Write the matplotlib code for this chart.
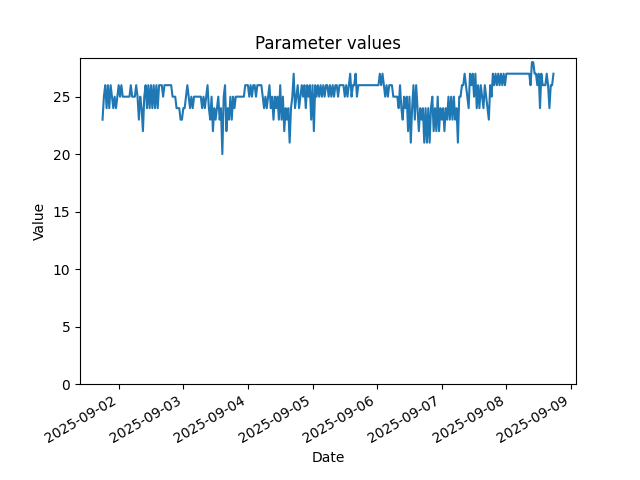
import matplotlib
matplotlib.use("Agg")
import matplotlib.pyplot as plt
import matplotlib.dates as mdates
import pandas as pd

# readings every 30 minutes, one list per day
day_0901 = [23, 25, 26, 24, 26, 24, 26, 25, 24, 25, 24, 25]  # from 18:00
day_0902 = [26, 25, 26, 25, 25, 25, 25, 25, 25, 26, 25, 25,
            25, 26, 25, 23, 25, 24, 22, 25, 26, 24, 26, 24,
            26, 24, 26, 24, 26, 24, 26, 26, 26, 25, 26, 26,
            26, 26, 26, 26, 25, 25, 25, 24, 24, 24, 23, 23]
day_0903 = [24, 24, 25, 26, 25, 24, 25, 24, 25, 25, 25, 25,
            25, 25, 24, 25, 24, 25, 26, 24, 23, 25, 22, 24,
            23, 24, 25, 23, 24, 20, 25, 26, 22, 24, 23, 25,
            23, 25, 24, 25, 25, 25, 25, 25, 25, 25, 26, 26]
day_0904 = [26, 25, 26, 25, 26, 26, 25, 26, 26, 26, 26, 25,
            24, 25, 24, 25, 26, 24, 25, 23, 25, 24, 25, 23,
            26, 23, 25, 22, 24, 23, 24, 21, 24, 25, 27, 24,
            25, 26, 24, 25, 26, 25, 26, 24, 26, 25, 26, 23]
day_0905 = [26, 22, 26, 25, 26, 25, 26, 25, 26, 25, 26, 26,
            25, 26, 25, 26, 25, 26, 26, 25, 26, 26, 26, 26,
            25, 26, 25, 26, 27, 25, 26, 26, 27, 25, 26, 26,
            26, 26, 26, 26, 26, 26, 26, 26, 26, 26, 26, 26]
day_0906 = [26, 26, 27, 26, 27, 26, 25, 26, 25, 26, 26, 26,
            25, 25, 25, 25, 24, 26, 24, 23, 25, 24, 25, 22,
            25, 21, 24, 26, 23, 26, 24, 22, 24, 23, 24, 21,
            24, 21, 24, 21, 24, 25, 22, 24, 22, 25, 22, 24]
day_0907 = [23, 24, 22, 24, 23, 25, 23, 25, 23, 25, 23, 24,
            21, 25, 25, 26, 26, 27, 26, 25, 24, 27, 26, 27,
            25, 27, 24, 26, 24, 26, 25, 24, 26, 25, 24, 23,
            26, 25, 27, 26, 27, 26, 27, 26, 27, 26, 27, 26]
day_0908 = [27, 27, 27, 27, 27, 27, 27, 27, 27, 27, 27, 27,
            27, 27, 27, 27, 27, 27, 26, 28, 28, 27, 27, 26,
            27, 24, 27, 26, 26, 26, 27, 26, 24, 26, 26, 27]  # to 17:30

values = day_0901 + day_0902 + day_0903 + day_0904 + day_0905 + day_0906 + day_0907 + day_0908
dates = pd.date_range("2025-09-01 18:00", periods=len(values), freq="30min")

fig, ax = plt.subplots(figsize=(6.4, 4.8), dpi=100)
ax.plot(dates, values)
ax.set_ylim(bottom=0)
ax.xaxis.set_major_locator(mdates.DayLocator())
ax.xaxis.set_major_formatter(mdates.DateFormatter("%Y-%m-%d"))
ax.set_title("Parameter values")
ax.set_xlabel("Date")
ax.set_ylabel("Value")
fig.autofmt_xdate()

fig.savefig("out.png")
